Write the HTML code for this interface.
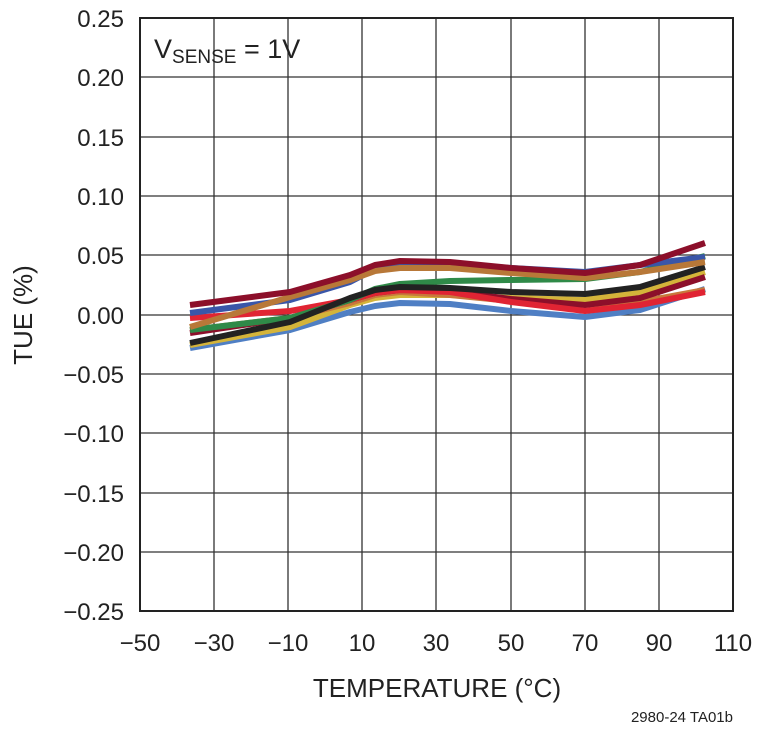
<!DOCTYPE html><html><head><style>body{margin:0;background:#fff}svg text{font-family:"Liberation Sans Narrow","Liberation Sans",sans-serif;fill:#222}</style></head><body>
<svg width="760" height="729" xmlns="http://www.w3.org/2000/svg">
<g stroke="#333" stroke-width="1.3">
<line x1="214" y1="18" x2="214" y2="611"/><line x1="288" y1="18" x2="288" y2="611"/><line x1="362" y1="18" x2="362" y2="611"/><line x1="436" y1="18" x2="436" y2="611"/><line x1="511" y1="18" x2="511" y2="611"/><line x1="585" y1="18" x2="585" y2="611"/><line x1="659" y1="18" x2="659" y2="611"/>
<line x1="140" y1="77" x2="733" y2="77"/><line x1="140" y1="137" x2="733" y2="137"/><line x1="140" y1="196" x2="733" y2="196"/><line x1="140" y1="255" x2="733" y2="255"/><line x1="140" y1="315" x2="733" y2="315"/><line x1="140" y1="374" x2="733" y2="374"/><line x1="140" y1="433" x2="733" y2="433"/><line x1="140" y1="493" x2="733" y2="493"/><line x1="140" y1="552" x2="733" y2="552"/>
</g>
<rect x="140" y="18" width="593" height="593" fill="none" stroke="#222" stroke-width="2"/>
<g fill="none" stroke-width="6" stroke-linejoin="round" stroke-linecap="butt">
<polyline stroke="#4f7fc4" points="190,348 290,330 350,312 375,306 400,303 450,304 511,311 585,317 640,310 705,289"/>
<polyline stroke="#d4b43a" points="190,345 290,327 350,305 375,298 400,295 450,295 511,298 585,300 640,292 705,272"/>
<polyline stroke="#c8783c" points="190,330 290,318 350,303 375,295 400,292 450,295 511,301 585,305 640,302 705,290"/>
<polyline stroke="#8c0f2a" points="190,333 290,318 350,300 375,293 400,290 450,291 511,299 585,305 640,298 705,277"/>
<polyline stroke="#e02433" points="190,318 290,311 350,300 375,293 400,290 450,292 511,302 585,311 640,305 705,292"/>
<polyline stroke="#2f8a48" points="190,330 290,318 350,300 375,289 400,284 450,281 511,280 585,279 640,272 705,256"/>
<polyline stroke="#222" points="190,343 290,322 350,298 375,290 400,287 450,288 511,292 585,294 640,287 705,267"/>
<polyline stroke="#3a56a8" points="190,313 290,300 350,282 375,269 400,264 450,264 511,268 585,272 640,265 705,257"/>
<polyline stroke="#b87838" points="190,327 290,297 350,280 375,271 400,268 450,268 511,273 585,278 640,272 705,262"/>
<polyline stroke="#8c0f2a" points="190,305 290,292 350,275 375,265 400,261 450,262 511,268 585,273 640,265 705,243"/>
</g>
<g font-size="24" text-anchor="end">
<text x="124" y="27">0.25</text><text x="124" y="86">0.20</text><text x="124" y="146">0.15</text><text x="124" y="205">0.10</text><text x="124" y="264">0.05</text><text x="124" y="324">0.00</text><text x="124" y="383">−0.05</text><text x="124" y="442">−0.10</text><text x="124" y="502">−0.15</text><text x="124" y="561">−0.20</text><text x="124" y="620">−0.25</text>
</g>
<g font-size="24" text-anchor="middle">
<text x="140" y="651">−50</text><text x="214" y="651">−30</text><text x="288" y="651">−10</text><text x="362" y="651">10</text><text x="436" y="651">30</text><text x="511" y="651">50</text><text x="585" y="651">70</text><text x="659" y="651">90</text><text x="733" y="651">110</text>
<text x="437" y="697" font-size="26">TEMPERATURE (°C)</text>
</g>
<text transform="translate(32,315) rotate(-90)" font-size="26" text-anchor="middle">TUE (%)</text>
<text x="154" y="58" font-size="27">V<tspan font-size="19" dy="5">SENSE</tspan><tspan dy="-5"> = 1V</tspan></text>
<text x="733" y="722" font-size="15" text-anchor="end">2980-24 TA01b</text>
</svg></body></html>
